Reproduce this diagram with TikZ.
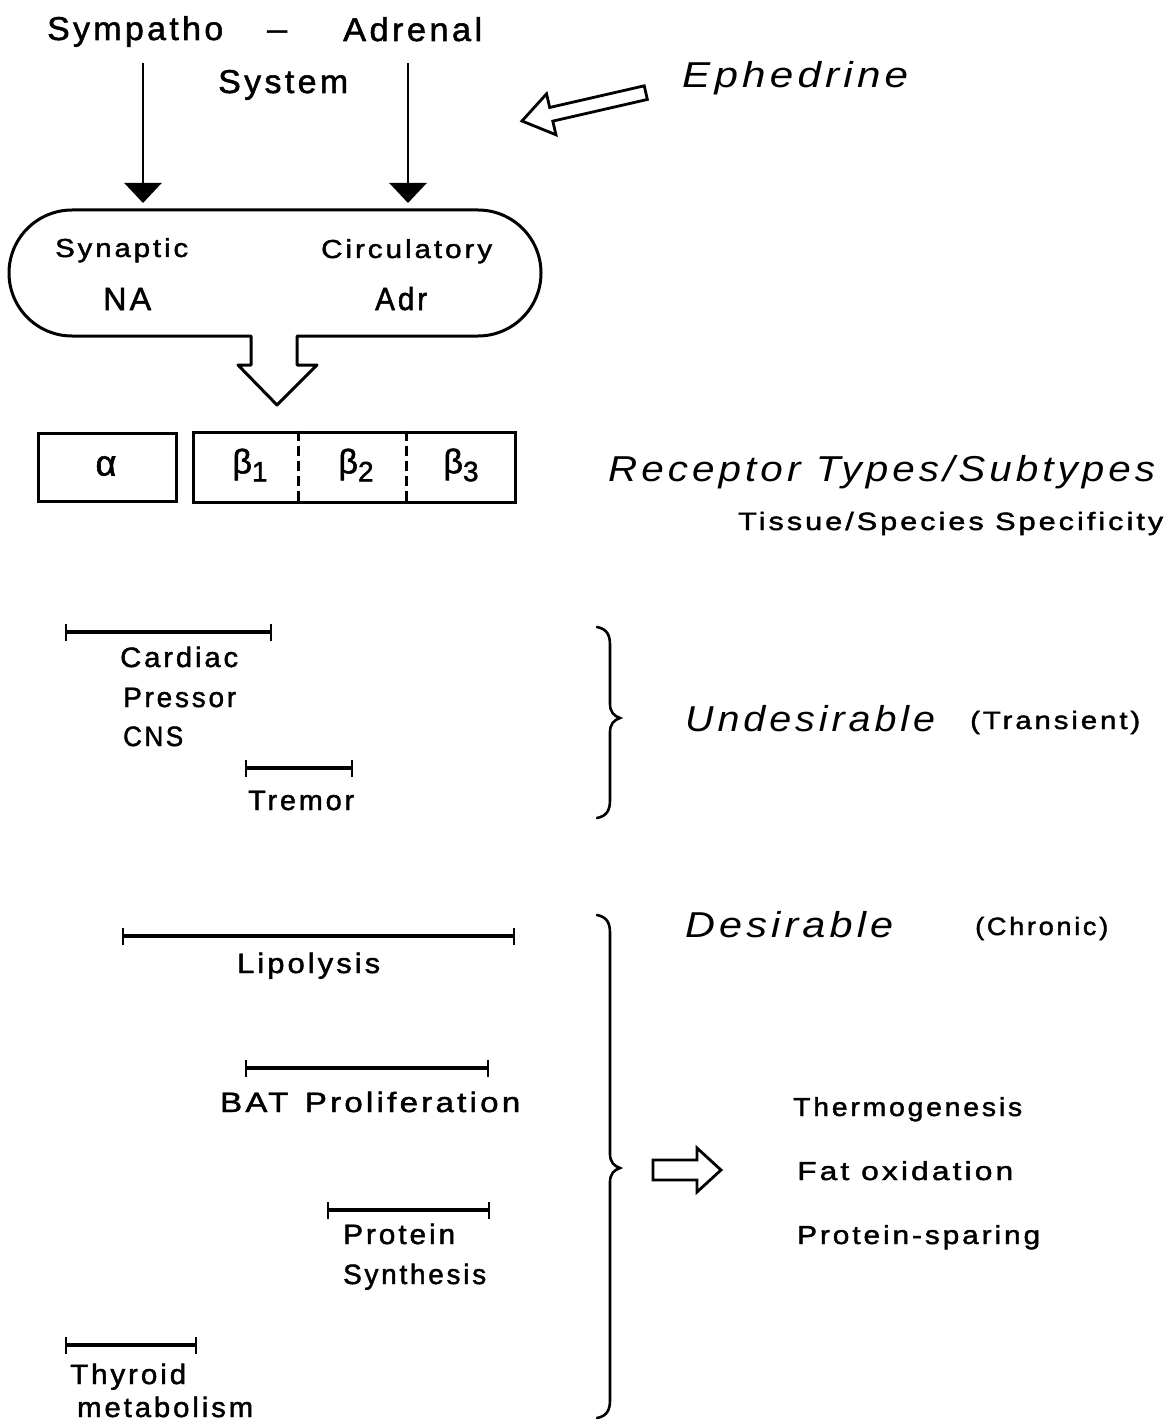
\documentclass[tikz,border=0pt]{standalone}
\usepackage{fontspec}
\setmainfont[LetterSpace=10, UprightFeatures={FakeBold=1.6}]{Liberation Sans}
\usepackage{graphicx}
\usetikzlibrary{arrows.meta}
\newcommand\fs[1]{\fontsize{#1}{#1}\selectfont}
\newcommand\fitw[2]{\resizebox{#1pt}{\height}{#2}}
\tikzset{
  txt/.style={inner sep=0pt, anchor=base west},
  ln/.style={line width=2.8pt},
  rng/.style={line width=3.6pt, {Bar[width=17pt,line width=2.4pt]}-{Bar[width=17pt,line width=2.4pt]}},
  downarrow/.style={line width=2.5pt, -{Triangle[width=37pt,length=20pt]}},
  box/.style={draw, line width=3pt, inner sep=0pt},
  brace/.style={line width=2.6pt, line cap=round}
}
\begin{document}
\begin{tikzpicture}[x=1pt,y=1pt]
\useasboundingbox (0,0) rectangle (1168,-1423);
% top texts
\node[txt] (symp) at (47,-40) {\fs{33}\fitw{176}{Sympatho}};
\node[txt] (dash) at (267,-40) {\fs{33}\fitw{20}{–}};
\node[txt] (adren) at (343,-41) {\fs{33}\fitw{139}{Adrenal}};
\node[txt] (syst) at (218,-93) {\fs{33}\fitw{130}{System}};
\node[txt] (ephed) at (682,-88) {\fs{36}\itshape\fitw{226}{Ephedrine}};
% vertical arrows
\coordinate (s1) at (143,-63);
\coordinate (e1) at (143,-203);
\coordinate (s2) at (408,-63);
\coordinate (e2) at (408,-203);
\draw[downarrow] (s1) -- (e1);
\draw[downarrow] (s2) -- (e2);
% Ephedrine hollow arrow
\begin{scope}[shift={(522,-121)}, rotate=12.9]
\draw[ln, line join=miter] (0,0) -- (30,21) -- (30,7) -- (127,7) -- (127,-7) -- (30,-7) -- (30,-21) -- cycle;
\end{scope}
% pill with block arrow
\draw[line width=3pt, line join=round] (251,-336) -- (72,-336) arc (270:90:63) -- (478,-210) arc (90:-90:63) -- (297,-336) -- (297,-365) -- (317,-365) -- (277,-405) -- (238,-365) -- (251,-365) -- cycle;
\node[txt] (syn) at (55,-257) {\fs{26}\fitw{133}{Synaptic}};
\node[txt] (circ) at (321,-258) {\fs{26}\fitw{171}{Circulatory}};
\node[txt] (na) at (103,-310) {\fs{32}\fitw{48}{NA}};
\node[txt] (adr) at (375,-310) {\fs{32}\fitw{52}{Adr}};
% receptor boxes
\node[box, minimum width=138pt, minimum height=68pt] (abox) at (107,-467) {};
\node (alpha) at (106,-466) {\fs{36}α};
\node[box, minimum width=322pt, minimum height=70pt] (bbox) at (354,-467) {};
\draw[line width=2.6pt, dash pattern=on 10pt off 5pt] (bbox.north west) ++(107,0) coordinate (d1t) -- (d1t |- bbox.south) coordinate (d1b);
\draw[line width=2.6pt, dash pattern=on 10pt off 5pt] (bbox.north west) ++(215,0) coordinate (d2t) -- (d2t |- bbox.south) coordinate (d2b);
\node (b1) at (250,-465) {\fs{34}β\raisebox{-8pt}{\fs{28}1}};
\node (b2) at (356,-465) {\fs{34}β\raisebox{-8pt}{\fs{28}2}};
\node (b3) at (461,-465) {\fs{34}β\raisebox{-8pt}{\fs{28}3}};
\node[txt] (recep) at (608,-481) {\fs{36}\itshape\fitw{547}{Receptor Types/Subtypes}};
\node[txt] (tissue) at (738,-530) {\fs{25}\fitw{425}{Tissue/Species Specificity}};
% undesirable ranges
\coordinate (ca) at (65,-632); \coordinate (cb) at (272,-632);
\draw[rng] (ca) -- (cb);
\node[txt] (card) at (120,-667) {\fs{28}\fitw{118}{Cardiac}};
\node[txt] (press) at (123,-707) {\fs{28}\fitw{113}{Pressor}};
\node[txt] (cns) at (123,-746) {\fs{28}\fitw{60}{CNS}};
\coordinate (ta) at (245,-768); \coordinate (tb) at (353,-768);
\draw[rng] (ta) -- (tb);
\node[txt] (trem) at (248,-810) {\fs{28}\fitw{106}{Tremor}};
% brace 1
\draw[brace] (597,-627) .. controls (607,-629) and (610,-635) .. (610,-645) -- (610,-704) .. controls (610,-712) and (614,-716) .. (620,-718) .. controls (614,-720) and (610,-724) .. (610,-732) -- (610,-800) .. controls (610,-810) and (607,-816) .. (597,-818);
\node[txt] (undes) at (685,-731) {\fs{36}\itshape\fitw{250}{Undesirable}};
\node[txt] (trans) at (970,-729) {\fs{25}\fitw{170}{(Transient)}};
% desirable
\node[txt] (des) at (685,-937) {\fs{36}\itshape\fitw{208}{Desirable}};
\node[txt] (chron) at (975,-935) {\fs{25}\fitw{133}{(Chronic)}};
\draw[brace] (597,-915) .. controls (607,-917) and (610,-923) .. (610,-933) -- (610,-1154) .. controls (610,-1162) and (614,-1166) .. (620,-1168) .. controls (614,-1170) and (610,-1174) .. (610,-1182) -- (610,-1400) .. controls (610,-1410) and (607,-1416) .. (597,-1418);
\coordinate (la) at (122,-936); \coordinate (lb) at (515,-936);
\draw[rng] (la) -- (lb);
\node[txt] (lipo) at (237,-973) {\fs{28}\fitw{143}{Lipolysis}};
\coordinate (ba) at (245,-1068); \coordinate (bb) at (489,-1068);
\draw[rng] (ba) -- (bb);
\node[txt] (bat) at (220,-1112) {\fs{28}\fitw{300}{BAT\hspace{14pt}Proliferation}};
\coordinate (pa) at (327,-1210); \coordinate (pb) at (490,-1210);
\draw[rng] (pa) -- (pb);
\node[txt] (prot) at (343,-1244) {\fs{28}\fitw{112}{Protein}};
\node[txt] (synth) at (343,-1284) {\fs{28}\fitw{143}{Synthesis}};
\coordinate (tha) at (65,-1345); \coordinate (thb) at (197,-1345);
\draw[rng] (tha) -- (thb);
\node[txt] (thyr) at (70,-1384) {\fs{28}\fitw{116}{Thyroid}};
\node[txt] (meta) at (77,-1417) {\fs{28}\fitw{176}{metabolism}};
% right hollow arrow
\draw[ln, line join=miter] (653,-1160) -- (697,-1160) -- (697,-1148) -- (721,-1170) -- (697,-1192) -- (697,-1180) -- (653,-1180) -- cycle;
\node[txt] (thermo) at (793,-1116) {\fs{26}\fitw{229}{Thermogenesis}};
\node[txt] (fat) at (797,-1180) {\fs{26}\fitw{216}{Fat oxidation}};
\node[txt] (psp) at (797,-1244) {\fs{26}\fitw{243}{Protein-sparing}};
\end{tikzpicture}
\end{document}
